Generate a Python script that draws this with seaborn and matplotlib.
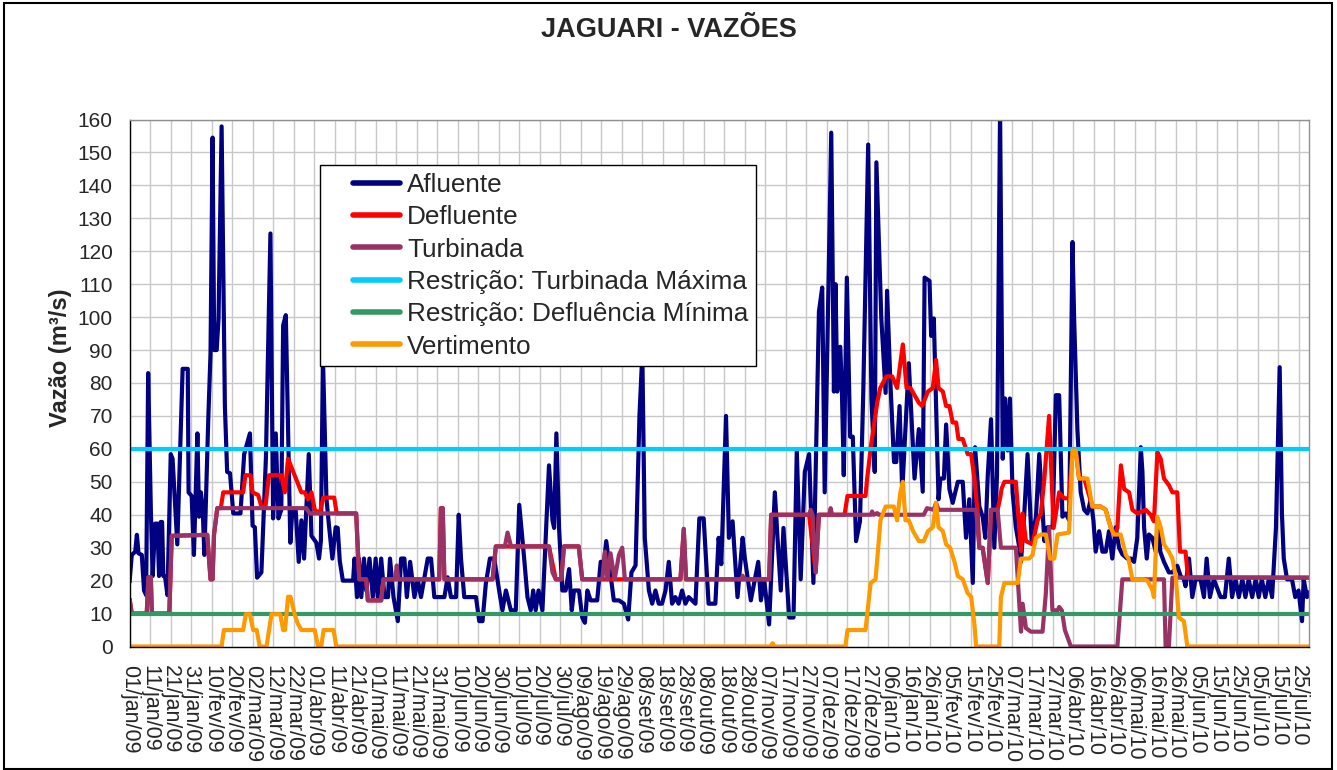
import numpy as np
import pandas as pd
import matplotlib
matplotlib.use("Agg")
import matplotlib.pyplot as plt
import seaborn as sns
from matplotlib.legend_handler import HandlerLine2D
from matplotlib.lines import Line2D
from matplotlib.patches import Rectangle

# ---------------- DATA (day index from 01/jan/09, vazão m3/s) ----------------
afluente = [(0,19.3),(1.1,27.8),(2.8,28.8),(3.6,33.9),(4.4,28.3),(6,27.8),(7.1,17),(8.1,15.6),(9.1,83),
    (10.4,41.5),(11.3,21.4),(12.5,37.3),(13.6,37.3),(14.4,21.4),(15.2,37.8),(15.9,37.8),(16.5,21.4),
    (17.3,21.4),(18.5,15.6),(20.1,58.4),(21,57),(23.3,31),(25.9,84.3),(28.4,84.3),(28.8,46.8),(30.3,45.7),
    (31.4,27.8),(33.1,64.7),(33.9,39.4),(34.8,46.8),(35.7,41.5),(36.5,27.8),(38.4,69),(39.5,89),(40.5,154.5),
    (41.3,90),(42.5,90),(43.4,99.6),(44.9,157.9),(46.5,73),(47.6,53),(49,52.6),(50.6,40.4),(54.1,40.4),
    (55.9,58.4),(58.7,64.7),(60,36.7),(61.1,36.2),(62.2,20.9),(64.3,22.5),(66.5,57.3),(68.7,125.4),(70,38.9),
    (71.3,64.7),(72.6,38.9),(74,41.5),(74.9,97.5),(76.2,100.6),(78.4,31.5),(79.4,41.5),(81,41.5),(82.5,25.7),
    (83.8,38.3),(85.1,26.7),(87.4,58.4),(88.7,33.6),(91.1,31.5),(92.4,26.7),(93.3,32),(94.3,88),(96,45),
    (97.2,37),(98.9,26.7),(100.5,36.2),(101.5,36),(102.5,26),(104,20),(109,20),(109.7,26.7),(110.9,15),
    (111.8,26.7),(113,15),(114.3,26.7),(115.4,17),(117,26.7),(118.6,15),(120,26.7),(121,15),(122.7,26.7),
    (124.3,15),(126,15),(127,26.7),(128.7,15),(130.8,7.7),(132.4,26.7),(134,26.7),(135.2,15),(136.8,25.7),
    (138.9,15),(140.5,20.4),(142.1,15),(145.4,26.7),(147,26.7),(148.6,15),(153.5,15),(155.1,21),(156.7,15),
    (159.2,15),(160.5,40),(161.6,26.7),(163.2,15),(168.9,15),(170.5,7.7),(172.1,7.7),(173.7,19),(175.7,26.7),
    (177.8,26.7),(180.2,17),(181.8,11),(183.5,17),(185.9,11),(188.3,11),(190,43),(192.4,26.7),(194,15),
    (195.6,11),(196.8,17),(198,11),(199.4,17),(201.3,11),(202.9,33),(204.5,55),(206.2,38.3),(207,36),
    (208.1,64.7),(209.4,36),(211,17),(212.6,17),(214.3,23.5),(215.6,11),(216.7,17),(219.1,17),(220.7,8.8),
    (222,7.2),(223.2,17),(224.8,14),(228,14),(229.7,25.7),(231.3,25.7),(232.4,32),(233.7,25.7),(236.1,14),
    (238.6,14),(241,13),(243.1,8.2),(244.7,22.5),(246.7,24.6),(248.6,70),(250,89),(251.2,33),(253.2,17),
    (254.8,13),(256.4,17),(258,13),(259.6,13),(261.3,17),(262.9,25.7),(264.5,13),(266.1,15),(267.7,13),
    (269.4,17),(271,13),(272.6,15),(275.9,13),(277.8,38.9),(279.9,38.9),(282.3,13),(285.6,13),(287.2,33),
    (288.5,25),(290.8,70),(292.2,33),(294,38),(296.4,15),(298.9,33),(300,26.7),(302.9,14),(306.5,25.7),
    (307.8,14),(309.4,20.4),(311.8,6.7),(314.6,46.8),(315.9,33),(317.5,17),(318.8,36),(321.6,8.8),
    (323.7,8.8),(325.3,59.5),(327.2,20.4),(329.2,53),(331.3,58.4),(333.4,19.3),(336.1,101.7),(337.7,109),
    (338.9,46.8),(342.1,156),(343.4,77.4),(344.2,110),(345,77.4),(346.5,91),(347.3,77.4),(348.2,52),
    (349.7,112),(351.3,63.7),(352.6,63.7),(354.2,32),(356.1,38),(357.7,77),(360.1,152.4),(361.7,75),
    (363.3,53),(364.1,147),(366.5,99.6),(368.6,77),(369.3,108),(370.9,80.6),(372.7,56),(373.8,56),
    (375.4,73),(376.7,47),(379.9,86),(382.7,51),(384.8,66),(386.7,47),(387.6,112),(390,111),(390.8,94.3),
    (392.1,99.6),(393.2,73),(394.4,44.7),(395.3,51),(397,51),(398.1,67.4),(399.7,47.8),(401.3,43.6),
    (403.8,50),(406.2,50),(407.8,33),(409.4,44.7),(411.1,19.3),(412.2,60.5),(414.3,42.5),(415.9,39.4),
    (417.2,33),(418.4,52),(420,69),(421.6,30),(422.9,52),(424.4,163),(425.7,57),(426.8,75.3),(428.1,59.5),
    (429.2,75.3),(430.5,46.8),(432.1,36.2),(433.8,30),(434.6,25.7),(436.2,40.4),(437.8,58.4),(439.8,32),
    (441.9,39.4),(443.5,58.4),(446,32),(447.5,36.2),(450,36.2),(451.6,76.3),(453.2,76.3),(454.8,39.4),
    (456.4,40.4),(458.1,38.3),(459.7,122.8),(460.5,99.6),(462.1,65.8),(463.7,46.8),(465.4,41.5),(467,40.4),
    (468.6,44.7),(469.9,38.3),(471,28.8),(472.7,35),(474.3,28.8),(475.9,28.8),(477.5,35),(479.1,26.7),
    (480.8,36.2),(482.4,30),(484,28),(486.4,26.7),(488.1,26.7),(489.7,25.7),(491.3,33),(493,60.5),(493.8,53),
    (494.6,36.2),(495.9,26.7),(497,34),(498.6,33),(500.3,28.8),(501.4,38.3),(502.5,28.8),(504.3,25.7),
    (506.7,22.5),(508.4,22.5),(510.8,24.5),(512.4,21.4),(514,20.4),(514.8,18.3),(516.5,26.7),(518.1,15),
    (519.7,20.4),(522.1,20.4),(523.8,15),(525.1,26.7),(526.7,15),(528.6,20.4),(531.9,15),(534,15),
    (535.9,26.7),(537.5,15),(539.2,20.4),(540.8,15),(542.5,20.4),(544,15),(545.6,20.4),(547.3,15),(549,20.4),
    (550.5,15),(552,20.4),(553.7,15),(555.4,20.4),(557,15),(558.9,36.2),(560.7,84.8),(561.8,40.4),
    (562.7,26.7),(564.3,20.4),(566.7,20.4),(568.3,15),(569.9,17),(571.6,7.7),(572.4,20.4),(574,15),(575,17)]

defluente = [(0,14.6),(1.1,10),(8.4,10),(9.2,21),(10.4,21),(10.9,10),(19.4,10),(20.6,33.6),(37.9,33.9),
    (39.5,20.4),(40.5,20.4),(41.2,34),(42.8,42),(44.5,42),(45.7,46.8),(55.4,46.8),(56.5,52),(59,52),(60,46.8),
    (62.7,46),(64.3,42.5),(66.3,42.5),(68,52),(74,52),(75.7,46.8),(77.3,57),(80.5,52),(83.8,46.8),(85.5,46.8),
    (87,44.7),(88.7,46.8),(90.3,41.5),(92.7,40.4),(94.5,45.2),(99.8,45.2),(101,40.4),(110.5,40.4),(112,20.4),
    (115.4,20.4),(116.2,14),(122.7,14),(123.8,20.4),(151,20.4),(151.8,42),(152.7,42),(153.5,20.4),(177,20.4),
    (178.6,30.4),(204.5,30.4),(207.8,20.4),(210.5,20.4),(211.8,30.4),(219,30.4),(220.7,20.4),(268.6,20.4),
    (270.2,35.7),(271.3,20.4),(311.8,20.4),(312.8,40),(331.3,40),(334.5,22.5),(336.1,40),(348.6,40),
    (350,45.7),(358.8,45.7),(359.6,51),(361.6,61.6),(364.5,74),(366,78.5),(368.9,82),(371.8,82),(374.2,78.5),
    (377,91.7),(378.8,78.5),(380.7,78.5),(384.8,74),(386.4,73),(389.2,77.4),(391.6,78.5),(393.2,87),
    (394.4,78.5),(396.5,77.4),(398.1,73),(399.7,73),(401.3,68),(403,68),(404.1,63),(406.2,63),(408.6,58.4),
    (410.3,58.4),(411.9,51),(413.5,40.4),(414.3,30),(415.9,30),(418.4,19.3),(420,41.5),(423.2,41.5),
    (424.4,45),(425.2,48),(426.5,50),(432.1,50),(434.6,29),(435.4,40.4),(437,32),(440.2,31),(442.7,38.3),
    (444.3,40.4),(446,51),(448.3,70),(450.5,36),(453.2,46.8),(455.6,45),(458,45),(459.7,59.5),(461.3,59.5),
    (462.9,51),(465.4,51),(469.4,42.5),(473.5,42.5),(475.9,41.5),(478.3,36.2),(479.9,34),(481.6,36),
    (483.3,55),(484.9,47.8),(487.3,46.8),(488.9,41.5),(491.3,40.4),(495.4,41.5),(497.8,40),(499.4,38),
    (501.1,59),(502.7,57),(504.3,51),(506.7,49),(508.4,46.8),(510.8,46.8),(512.1,28.8),(514.8,28.8),
    (516,21),(575,20.9)]

turbinada = [(0,14.6),(1.1,10),(8.4,10),(9.2,21),(10.4,21),(10.9,10),(19.4,10),(20.6,33.6),(37.9,33.9),
    (39.5,20.4),(40.5,20.4),(41.2,34),(42.8,42),(86.2,42),(87.8,40.4),(110.5,40.4),(112,20.4),(115.4,20.4),
    (116.2,14),(122.7,14),(123.8,20.4),(129.5,20.4),(130.3,24.6),(131,20.4),(151,20.4),(151.8,42),
    (152.7,42),(153.5,20.4),(177,20.4),(178.6,30.4),(183,30.4),(184.3,34.6),(186,30.4),(204.5,30.4),
    (206.2,22.5),(207.8,20.4),(210.5,20.4),(211.8,30.4),(219,30.4),(220.7,20.4),(230.5,20.4),(231.8,28.8),
    (233,20.4),(234.5,28.3),(236.5,20.4),(238.6,27.8),(240.2,30),(241.5,20.4),(268.6,20.4),(270.2,35.7),
    (271.3,20.4),(298.5,20.4),(298.9,21.5),(299.5,20.4),(311.8,20.4),(312.8,40),(331.3,40),(332.1,41.5),
    (333,40),(334.5,22.5),(336.1,40),(341.2,40),(341.8,42),(342.5,40),(361.5,40),(362,41),(362.8,40),
    (364.5,40.5),(365.2,40),(387.2,40),(388.8,42),(392,41.5),(393.2,43.6),(394.4,41.5),(412.7,41.5),
    (414.3,29.9),(415.9,29.9),(418.4,19.3),(420,41.5),(423.2,41.5),(424.8,30),(432.1,30),(434.6,4.5),
    (435.4,13),(437,5.6),(439.4,4.5),(445.1,4.5),(446.7,16),(448.3,36.2),(449.9,11),(452.5,11),(453.2,12),
    (454.5,11),(456,5),(458.9,0),(481.6,0),(484,20.4),(504.3,20.4),(505.1,0),(506.7,0),(508.4,20.9),
    (575,20.9)]

restr_turb_max = [(0,60),(575,60)]
restr_defl_min = [(0,10),(575,10)]

vertimento = [(0,0),(44.9,0),(46,5),(55.4,5),(56.7,9.8),(58.7,9.8),(60.3,5),(62,5),(63.5,0),(66.8,0),
    (69.2,9.8),(73.5,9.8),(74.9,5),(75.8,5),(77.3,15.1),(78.5,15.1),(80.5,9.8),(82,7),(83.8,5),(90.3,5),
    (91.9,0),(93.5,0),(94.6,5),(99.5,5),(100.8,0),(312.5,0),(313.5,1),(314.5,0),(349,0),(350,5),(358.8,5),
    (361.3,19.3),(363.7,20.4),(366.1,38.3),(368.6,42.5),(372.6,42.5),(374.2,38.3),(375.8,46.8),(377,50),
    (378.3,38.3),(379.9,38.3),(382,35),(384.8,32),(387.2,32),(389.2,35),(391.6,36.2),(393.2,43.6),
    (394.4,36.2),(396.5,35),(398.1,31),(400,30),(402.2,25.7),(403.8,21.4),(406.2,20.4),(408.6,16.2),
    (410.3,15.1),(411.9,6.7),(412.7,0),(424,0),(424.8,15),(426.5,19.3),(433,19.3),(434.6,26.7),(438.6,26.7),
    (440.2,27.8),(441.9,33),(444.3,34),(446.7,34),(448.8,26.7),(450.8,26.7),(452.4,34),(458,34.6),
    (459.7,59.5),(461.3,59.5),(462.9,51),(467,51),(469.4,42.5),(473.5,42.5),(475.9,41.5),(478.3,36.2),
    (479.9,34),(483.2,34),(485.7,27.8),(487,26.7),(488.9,20.4),(494,20.4),(496.2,20),(498.6,17.2),
    (499.4,15),(501,39.4),(502.7,36.2),(504.3,31),(506.7,28.8),(508.4,26.7),(510,21.4),(511.6,8.8),
    (514,7.7),(515.7,0),(575,0)]

series_nomes = ["Afluente", "Defluente", "Turbinada", "Restrição: Turbinada Máxima",
                "Restrição: Defluência Mínima", "Vertimento"]

tick_dias = list(range(0, 571, 10))
tick_rotulos = ["01/jan/09","11/jan/09","21/jan/09","31/jan/09","10/fev/09","20/fev/09","02/mar/09",
    "12/mar/09","22/mar/09","01/abr/09","11/abr/09","21/abr/09","01/mai/09","11/mai/09","21/mai/09",
    "31/mai/09","10/jun/09","20/jun/09","30/jun/09","10/jul/09","20/jul/09","30/jul/09","09/ago/09",
    "19/ago/09","29/ago/09","08/set/09","18/set/09","28/set/09","08/out/09","18/out/09","28/out/09",
    "07/nov/09","17/nov/09","27/nov/09","07/dez/09","17/dez/09","27/dez/09","06/jan/10","16/jan/10",
    "26/jan/10","05/fev/10","15/fev/10","25/fev/10","07/mar/10","17/mar/10","27/mar/10","06/abr/10",
    "16/abr/10","26/abr/10","06/mai/10","16/mai/10","26/mai/10","05/jun/10","15/jun/10","25/jun/10",
    "05/jul/10","15/jul/10","25/jul/10"]
y_ticks = list(range(0, 161, 10))

# ---------------- STYLE ----------------
sns.set_style("white")
plt.rcParams["font.family"] = ["Liberation Sans", "DejaVu Sans"]

cores = ["#000080", "#FF0000", "#993366", "#00CCFF", "#339966", "#FF9900"]
dados = [afluente, defluente, turbinada, restr_turb_max, restr_defl_min, vertimento]

W, H = 1337, 770
fig = plt.figure(figsize=(W / 100, H / 100), dpi=100)
fig.patch.set_facecolor("white")
L, R, T, B = 129.5, 1309, 119.5, 646.5
ax = fig.add_axes([L / W, 1 - B / H, (R - L) / W, (B - T) / H])

for nome, pts, cor in zip(series_nomes, dados, cores):
    df = pd.DataFrame(pts, columns=["dia", "vazao"])
    sns.lineplot(data=df, x="dia", y="vazao", color=cor, linewidth=3.0, ax=ax,
                 sort=False, estimator=None, legend=False,
                 solid_joinstyle="round", solid_capstyle="butt")

ax.set_xlim(0, 575)
ax.set_ylim(0, 160)
ax.set_xticks(tick_dias)
ax.set_xticklabels(tick_rotulos, rotation=-90, fontsize=15.5, ha="center", va="top")
ax.set_yticks(y_ticks)
ax.set_yticklabels([str(v) for v in y_ticks], fontsize=15)
ax.tick_params(axis="x", direction="out", length=5, width=1, color="black", pad=8)
ax.tick_params(axis="y", direction="out", length=7, width=1, color="black", pad=5)
ax.set_xlabel("")
ax.set_ylabel("Vazão (m³/s)", fontsize=17, fontweight="bold")
ax.yaxis.set_label_coords((72 - L) / (R - L), (B - 358) / (B - T))

ax.grid(True, color="#c8c8c8", linewidth=1.0)
ax.set_axisbelow(True)
for s in ["left", "bottom"]:
    ax.spines[s].set_color("black")
    ax.spines[s].set_linewidth(1.0)
for s in ["top", "right"]:
    ax.spines[s].set_color("#909090")
    ax.spines[s].set_linewidth(1.0)


class LinhaDeslocada(HandlerLine2D):
    def create_artists(self, legend, orig_handle, xdescent, ydescent, width, height, fontsize, trans):
        arts = super().create_artists(legend, orig_handle, xdescent, ydescent, width, height, fontsize, trans)
        for a in arts:
            xd = np.asarray(a.get_xdata(), dtype=float)
            if len(xd) >= 2:
                x0, x1 = xd.min(), xd.max()
                a.set_xdata(np.linspace(x0 + 0.35 * (x1 - x0), x1, len(xd)))
        return arts


handles = [Line2D([], [], color=c, linewidth=4.0, solid_capstyle="round") for c in cores]
leg = ax.legend(handles, series_nomes, loc="upper left",
                bbox_to_anchor=((320 - L) / (R - L), (B - 165) / (B - T)),
                borderaxespad=0, fontsize=18.8, frameon=True, fancybox=False, shadow=False,
                borderpad=0.3, labelspacing=0.32, handlelength=2.77, handletextpad=0.27,
                handler_map={Line2D: LinhaDeslocada()})
leg.get_frame().set_edgecolor("black")
leg.get_frame().set_linewidth(1.0)
leg.get_frame().set_alpha(1.0)

fig.text(0.5, 1 - 30 / H, "JAGUARI - VAZÕES", ha="center", va="center",
         fontsize=19.5, fontweight="bold")

fig.patches.append(Rectangle((4 / W, 1 / H), (1332 - 4) / W, (767 - 1) / H,
                             transform=fig.transFigure, fill=False,
                             edgecolor="black", linewidth=1.5))

fig.savefig("out.png", dpi=100, facecolor="white")
